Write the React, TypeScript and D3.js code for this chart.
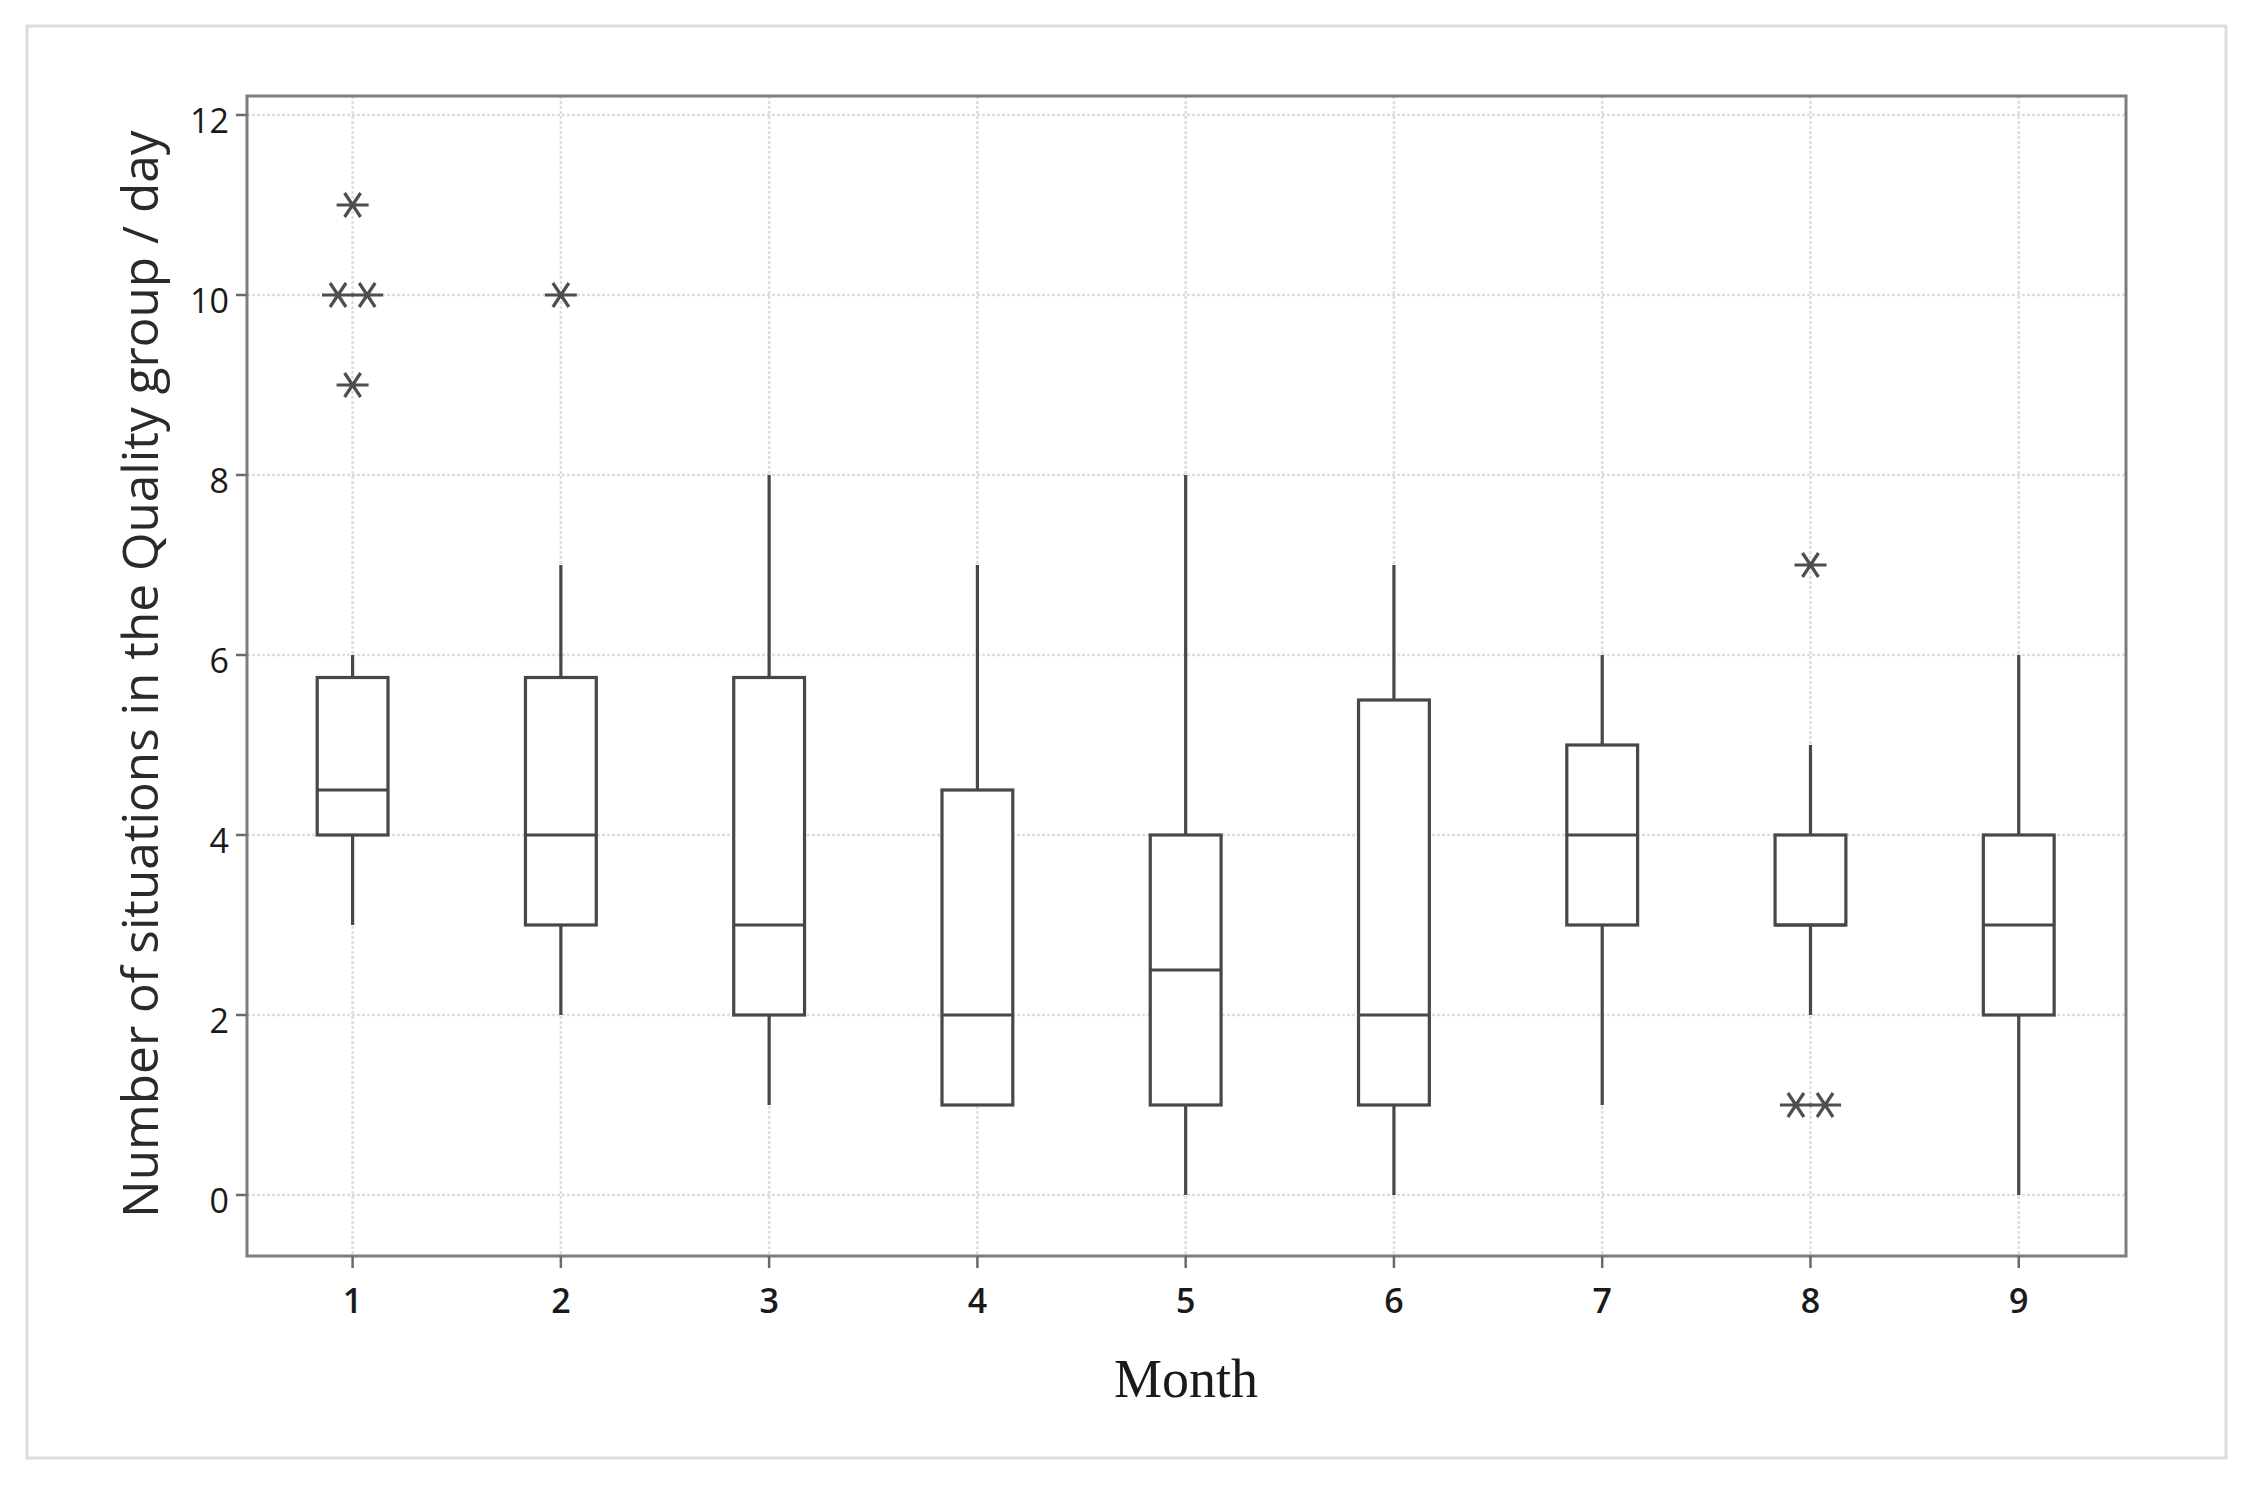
import React from "react";
import * as d3 from "d3";

const months = [1, 2, 3, 4, 5, 6, 7, 8, 9];
const whiskerLow = [3, 2, 1, 1, 0, 0, 1, 2, 0];
const q1 = [4, 3, 2, 1, 1, 1, 3, 3, 2];
const median = [4.5, 4, 3, 2, 2.5, 2, 4, 3, 3];
const q3 = [5.75, 5.75, 5.75, 4.5, 4, 5.5, 5, 4, 4];
const whiskerHigh = [6, 7, 8, 7, 8, 7, 6, 5, 6];
const outlierMonth = [1, 1, 1, 1, 2, 8, 8, 8];
const outlierValue = [11, 10, 10, 9, 10, 7, 1, 1];
const yTicks = [0, 2, 4, 6, 8, 10, 12];
const yTitle = "Number of situations in the Quality group / day";
const xTitle = "Month";

const W = 2257;
const H = 1490;
const plot = { left: 247, right: 2126, top: 96, bottom: 1256 };

export default function App() {
  const x = d3.scaleLinear().domain([0.493, 9.515]).range([plot.left, plot.right]);
  const y = d3.scaleLinear().domain([0, 12]).range([1195, 115]);
  const bw = x(1.17) - x(0.83);

  // jitter duplicate outliers
  const outliers = outlierMonth.map((m, i) => {
    const same = outlierMonth
      .map((mm, j) => ({ mm, v: outlierValue[j], j }))
      .filter((o) => o.mm === m && o.v === outlierValue[i]);
    const idx = same.findIndex((o) => o.j === i);
    const n = same.length;
    const off = n > 1 ? (idx - (n - 1) / 2) * 0.14 : 0;
    return { cx: x(m + off), cy: y(outlierValue[i]) };
  });

  const star = (cx: number, cy: number, k: number) => {
    const p = d3.path();
    p.moveTo(cx - 16, cy);
    p.lineTo(cx + 16, cy);
    p.moveTo(cx - 8, cy - 12);
    p.lineTo(cx + 8, cy + 12);
    p.moveTo(cx - 8, cy + 12);
    p.lineTo(cx + 8, cy - 12);
    return <path key={k} d={p.toString()} stroke="#4e4e4e" strokeWidth={3.2} fill="none" />;
  };

  const gridColor = "#dedede";
  const boxColor = "#474747";

  return (
    <svg
      width={W}
      height={H}
      style={{ position: "absolute", left: 0, top: 0, background: "#fff" }}
    >
      <rect x={0} y={0} width={W} height={H} fill="#fff" />
      <rect x={27} y={26} width={2199} height={1432} fill="none" stroke="#dcdcdc" strokeWidth={3} />

      {/* gridlines */}
      {yTicks.map((t) => (
        <line key={"gy" + t} x1={plot.left} x2={plot.right} y1={y(t)} y2={y(t)} stroke={gridColor} strokeWidth={2.5} strokeDasharray="3 2" />
      ))}
      {months.map((m) => (
        <line key={"gx" + m} x1={x(m)} x2={x(m)} y1={plot.top} y2={plot.bottom} stroke={gridColor} strokeWidth={2.5} strokeDasharray="3 2" />
      ))}

      {/* whiskers and boxes */}
      {months.map((m, i) => (
        <g key={"b" + m}>
          <line x1={x(m)} x2={x(m)} y1={y(whiskerHigh[i])} y2={y(q3[i])} stroke={boxColor} strokeWidth={3.2} />
          <line x1={x(m)} x2={x(m)} y1={y(q1[i])} y2={y(whiskerLow[i])} stroke={boxColor} strokeWidth={3.2} />
          <rect
            x={x(m) - bw / 2}
            y={y(q3[i])}
            width={bw}
            height={y(q1[i]) - y(q3[i])}
            fill="#fff"
            stroke={boxColor}
            strokeWidth={3.2}
          />
          <line x1={x(m) - bw / 2} x2={x(m) + bw / 2} y1={y(median[i])} y2={y(median[i])} stroke={boxColor} strokeWidth={3.2} />
        </g>
      ))}

      {/* outliers */}
      {outliers.map((o, i) => star(o.cx, o.cy, i))}

      {/* plot frame */}
      <rect x={plot.left} y={plot.top} width={plot.right - plot.left} height={plot.bottom - plot.top} fill="none" stroke="#7d7d7d" strokeWidth={3} />

      {/* y ticks */}
      {yTicks.map((t) => (
        <g key={"yt" + t}>
          <line x1={plot.left - 11} x2={plot.left} y1={y(t)} y2={y(t)} stroke="#6a6a6a" strokeWidth={2.5} />
          <text x={plot.left - 18} y={y(t) + 18} textAnchor="end" fontFamily="'Open Sans', sans-serif" fontSize={34} fill="#1a1a1a">
            {t}
          </text>
        </g>
      ))}

      {/* x ticks */}
      {months.map((m) => (
        <g key={"xt" + m}>
          <line x1={x(m)} x2={x(m)} y1={plot.bottom} y2={plot.bottom + 12} stroke="#6a6a6a" strokeWidth={2.5} />
          <text x={x(m)} y={1313} textAnchor="middle" fontFamily="'Open Sans', sans-serif" fontSize={34} fontWeight={600} fill="#1a1a1a">
            {m}
          </text>
        </g>
      ))}

      {/* titles */}
      <text
        transform={`translate(158, 674) rotate(-90)`}
        textAnchor="middle"
        fontFamily="'Open Sans', sans-serif"
        fontSize={49.5}
        fill="#2a2a2a"
      >
        {yTitle}
      </text>
      <text x={1186} y={1397} textAnchor="middle" fontFamily="'Liberation Serif', 'Times New Roman', serif" fontSize={54} fill="#1a1a1a">
        {xTitle}
      </text>
    </svg>
  );
}
